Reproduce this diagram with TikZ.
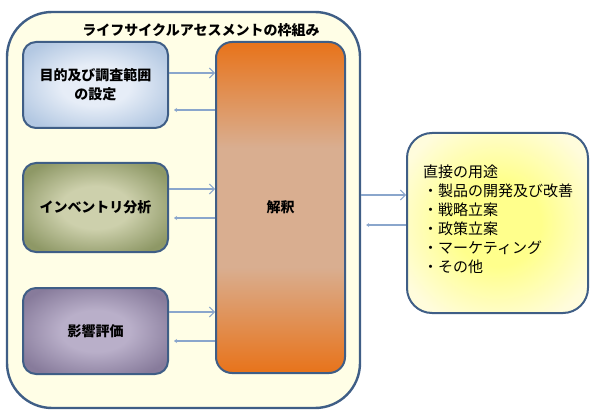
\documentclass[tikz,border=0pt]{standalone}
\usepackage{fontspec}
\setmainfont{Noto Sans CJK JP}
\usetikzlibrary{arrows.meta,calc}
\definecolor{frameline}{HTML}{3F5E86}
\definecolor{framefill}{HTML}{FFFEE6}
\definecolor{arrowc}{HTML}{8AA6CC}
\definecolor{orangeE}{HTML}{E8731A}
\definecolor{orangeM}{HTML}{D9AE90}
\colorlet{rin}{white}
\colorlet{rout}{gray}
\pgfdeclareradialshading[rin,rout]{softrad}{\pgfpoint{0bp}{0bp}}{color(0bp)=(rin); color(12bp)=(rin); color(30bp)=(rout); color(50bp)=(rout)}
\pgfdeclareverticalshading{orsh}{100bp}{color(0bp)=(orangeE); color(25bp)=(orangeE); color(41bp)=(orangeM); color(59bp)=(orangeM); color(75bp)=(orangeE); color(100bp)=(orangeE)}
\begin{document}
\begin{tikzpicture}[x=1pt,y=-1pt,
  box/.style={draw=frameline, line width=2pt, rounded corners=13pt, shading=softrad, font=\bfseries\fontsize{14}{19}\selectfont, align=center, inner sep=0pt},
  fwd/.style={draw=arrowc, line width=1.3pt, -{Straight Barb[length=5pt,width=10pt,line width=1pt]}},
  back/.style={draw=arrowc, line width=1.3pt, -{Stealth[length=3pt,width=4pt]}, shorten >=5pt}]
\useasboundingbox (0,0) rectangle (590,412);
\node[draw=frameline, fill=framefill, line width=2.4pt, rounded corners=45pt, minimum width=353pt, minimum height=396pt, inner sep=0pt] (frame) at (183.5,210) {};
\node[font=\bfseries\fontsize{14}{16}\selectfont] (title) at (201,30) {ライフサイクルアセスメントの枠組み};
\definecolor{rin}{HTML}{E6EDF7}\definecolor{rout}{HTML}{B3C8E2}
\node[box, minimum width=145pt, minimum height=86pt] (b1) at (95.5,85) {目的及び調査範囲\\の設定};
\definecolor{rin}{HTML}{CDD0AC}\definecolor{rout}{HTML}{8E9866}
\node[box, minimum width=145pt, minimum height=89pt] (b2) at (95.5,207.5) {インベントリ分析};
\definecolor{rin}{HTML}{B9AFC9}\definecolor{rout}{HTML}{877B9B}
\node[box, minimum width=145pt, minimum height=86pt] (b3) at (95.5,331) {影響評価};
\node[draw=frameline, line width=2pt, rounded corners=16pt, shading=orsh, minimum width=129pt, minimum height=331pt, inner sep=0pt, font=\bfseries\fontsize{14}{19}\selectfont] (interp) at (280.5,207.5) {解釈};
\definecolor{rin}{HTML}{FFFF8C}\definecolor{rout}{HTML}{FFFCDC}
\node[box, rounded corners=25pt, minimum width=181pt, minimum height=180pt] (right) at (497.5,223) {};
\node[anchor=north west, align=left, inner sep=0pt, font=\fontsize{15}{19}\selectfont] (list) at (423,165) {直接の用途\\・製品の開発及び改善\\・戦略立案\\・政策立案\\・マーケティング\\・その他};
% arrows left column
\coordinate (a1) at ($(b1.east)+(0,-12)$);
\coordinate (a2) at ($(b1.east)+(0,25)$);
\coordinate (a3) at ($(b2.east)+(0,-18.5)$);
\coordinate (a4) at ($(b2.east)+(0,10.5)$);
\coordinate (a5) at ($(b3.east)+(0,-19)$);
\coordinate (a6) at ($(b3.east)+(0,10)$);
\draw[fwd] (a1) -- (a1 -| interp.west);
\draw[back] (a2 -| interp.west) -- (a2);
\draw[fwd] (a3) -- (a3 -| interp.west);
\draw[back] (a4 -| interp.west) -- (a4);
\draw[fwd] (a5) -- (a5 -| interp.west);
\draw[back] (a6 -| interp.west) -- (a6);
% arrows right
\coordinate (r1) at ($(right.west)+(0,-28)$);
\coordinate (r2) at ($(right.west)+(0,2)$);
\draw[fwd] (r1 -| frame.east) -- (r1);
\draw[back] (r2) -- (r2 -| frame.east);
\end{tikzpicture}
\end{document}
